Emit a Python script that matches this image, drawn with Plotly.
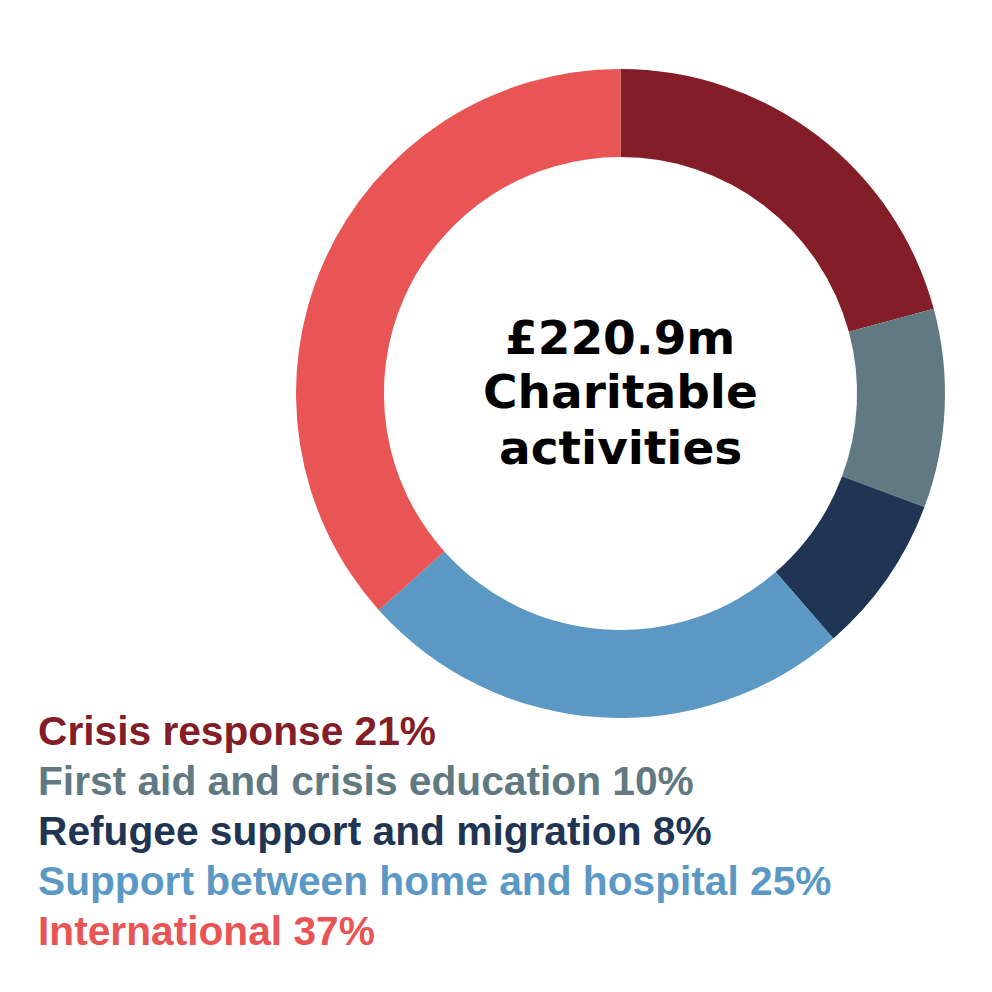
import plotly.graph_objects as go

# charitable activities split (percent of £220.9m)
labels = ['Crisis response', 'First aid and crisis education', 'Refugee support and migration',
          'Support between home and hospital', 'International']
values = [21, 10, 8, 25, 37]
colors = ['#831D27', '#617A82', '#1F3553', '#5B99C4', '#E95454']
centre_lines = ['£220.9m', 'Charitable', 'activities']

W = H = 992
OFF = 8  # page body margin, positions below are in window pixels


def px_x(v):
    return (v - OFF) / W


def px_y(v):
    return 1 - (v - OFF) / H


fig = go.Figure(go.Pie(
    labels=labels,
    values=values,
    hole=0.729,
    sort=False,
    direction='clockwise',
    rotation=0,
    marker=dict(colors=colors, line=dict(width=0)),
    textinfo='none',
    hoverinfo='label+percent',
    domain=dict(x=[px_x(296), px_x(945)], y=[px_y(718), px_y(69)]),
    showlegend=False,
))

# text in the hole
centre_y = [337, 391, 447]
for line, cy in zip(centre_lines, centre_y):
    fig.add_annotation(
        x=px_x(620), y=px_y(cy),
        xref='paper', yref='paper',
        text='<b>' + line + '</b>',
        showarrow=False,
        xanchor='center', yanchor='middle',
        font=dict(family='DejaVu Sans', size=47, color='black'),
    )

# coloured legend lines below the ring
for i, (lab, val, col) in enumerate(zip(labels, values, colors)):
    fig.add_annotation(
        x=px_x(36), y=px_y(731 + i * 50),
        xref='paper', yref='paper',
        text='<b>%s %d%%</b>' % (lab, val),
        showarrow=False,
        xanchor='left', yanchor='middle',
        font=dict(family='Liberation Sans', size=40.7, color=col),
    )

fig.update_layout(
    width=W, height=H,
    margin=dict(l=0, r=0, t=0, b=0),
    paper_bgcolor='white',
    plot_bgcolor='white',
)

fig.write_html('out.html')
